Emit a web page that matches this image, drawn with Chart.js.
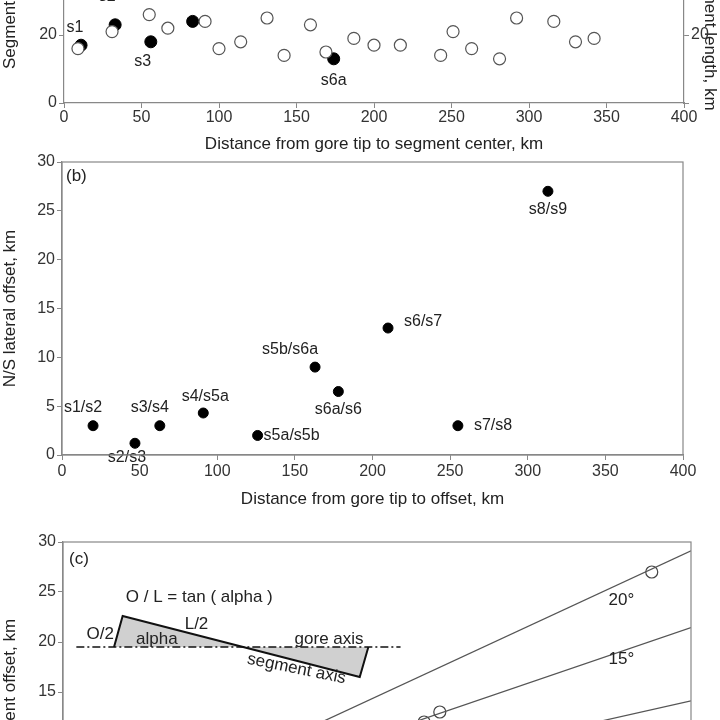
<!DOCTYPE html><html><head><meta charset="utf-8">
<script src="https://cdn.jsdelivr.net/npm/chart.js@4"></script>
<style>body{margin:0;width:720px;height:720px;overflow:hidden;background:#fff;position:relative}
canvas{position:absolute;left:0}</style></head><body>
<div style="position:absolute;left:0;top:-60px;width:720px;height:215px"><canvas id="a"></canvas></div>
<div style="position:absolute;left:0;top:150px;width:720px;height:360px"><canvas id="b"></canvas></div>
<div style="position:absolute;left:0;top:530px;width:720px;height:367px"><canvas id="c"></canvas></div>
<script>
const FONT="'Liberation Sans Narrow','Liberation Sans',Arial,sans-serif";
Chart.defaults.font.family=FONT;Chart.defaults.color='#333';Chart.defaults.font.size=16;
const aOpen=[[9,16],[31,21],[55,26],[67,22],[91,24],[100,16],[114,18],[131,25],[142,14],[159,23],[169,15],[187,19],[200,17],[217,17],[243,14],[251,21],[263,16],[281,13],[292,25],[316,24],[330,18],[342,19]];
const aFilled=[[11,17],[33,23],[56,18],[83,24],[174,13]];
const aLabels=['s1','s2','s3','s4','s6a'];
const aLabelOff=[[-6,-18],[-8,-28],[-8,20],[-16,-26],[0,22]];
const bPts=[[20,3],[47,1.2],[63,3],[91,4.3],[126,2],[163,9],[178,6.5],[210,13],[255,3],[313,27]];
const bLabels=['s1/s2','s2/s3','s3/s4','s4/s5a','s5a/s5b','s5b/s6a','s6a/s6','s6/s7','s7/s8','s8/s9'];
const bLabelOff=[[-10,-18],[-8,14],[-10,-18],[2,-16],[6,0],[-25,-18],[0,18],[16,-6],[16,0],[0,18]];
const cPts=[[75,27],[48,13],[46,12]];
const cAngles=[20,15,10];
const cLineX=[0,80];

const labelPlugin={id:'lbl',afterDatasetsDraw(ch){const o=ch.options.plugins.lbl;if(!o||!o.pts)return;const c=ch.ctx;const xs=ch.scales.x,ys=ch.scales.y;
c.save();c.font='16px '+FONT;c.fillStyle='#222';c.textBaseline='middle';
o.pts.forEach((p,i)=>{const off=o.off[i];c.textAlign=off[0]>5?'left':'center';c.fillText(o.labels[i],xs.getPixelForValue(p[0])+off[0],ys.getPixelForValue(p[1])+off[1]);});c.restore();}};
Chart.register(labelPlugin);
function fixW(w){return s=>{s.width=w;}}
function fixH(h){return s=>{s.height=h;}}
const tick={color:'#333',font:{size:16}};
const grid={display:true,drawOnChartArea:false,drawTicks:true,tickLength:5,color:'#888'};
const border={color:'#888',width:1.2};

new Chart('a',{type:'scatter',data:{datasets:[
{data:aOpen.map(p=>({x:p[0],y:p[1]})),pointRadius:6,borderColor:'#555',backgroundColor:'#fff',borderWidth:1.2},
{data:aFilled.map(p=>({x:p[0],y:p[1]})),pointRadius:6,borderColor:'#000',backgroundColor:'#000'}]},
options:{animation:false,responsive:true,maintainAspectRatio:false,layout:{padding:{top:27}},
plugins:{legend:{display:false},tooltip:{enabled:false},lbl:{pts:aFilled,labels:aLabels,off:aLabelOff}},
scales:{x:{min:0,max:400,ticks:{...tick,stepSize:50,padding:0},grid,border,title:{display:true,text:'Distance from gore tip to segment center, km',color:'#222',font:{size:17},padding:{top:0,bottom:0}},afterFit:fixH(52)},
y:{min:0,max:40,ticks:{...tick,stepSize:20,padding:2},grid,border,title:{display:true,text:'Segment',color:'#222',font:{size:17},padding:0},afterFit:fixW(64)},
y2:{position:'right',min:0,max:40,ticks:{...tick,stepSize:20,padding:2,callback:v=>v===0?'':v},grid,border,title:{display:true,text:'Segment length, km',color:'#222',font:{size:17},padding:0},afterFit:fixW(36)}}}});

new Chart('b',{type:'scatter',data:{datasets:[
{data:bPts.map(p=>({x:p[0],y:p[1]})),pointRadius:5,borderColor:'#000',backgroundColor:'#000'}]},
options:{animation:false,responsive:true,maintainAspectRatio:false,layout:{padding:{top:12,right:37}},
plugins:{legend:{display:false},tooltip:{enabled:false},lbl:{pts:bPts,labels:bLabels,off:bLabelOff}},
scales:{x:{min:0,max:400,ticks:{...tick,stepSize:50,padding:2},grid,border,title:{display:true,text:'Distance from gore tip to offset, km',color:'#222',font:{size:17},padding:0},afterFit:fixH(55)},
y:{min:0,max:30,ticks:{...tick,stepSize:5,padding:2},grid,border,title:{display:true,text:'N/S lateral offset, km',color:'#222',font:{size:17},padding:0},afterFit:fixW(62)}}},
plugins:[{id:'tb',afterDraw(ch){const c=ch.ctx,a=ch.chartArea;c.save();c.strokeStyle='#888';c.lineWidth=1.2;c.strokeRect(a.left,a.top,a.right-a.left,a.bottom-a.top);c.font='17px '+FONT;c.fillStyle='#222';c.textBaseline='top';c.fillText('(b)',a.left+4,a.top+6);c.restore();}}]});

const lineSets=cAngles.map(d=>({type:'line',data:cLineX.map(x=>({x,y:x*Math.tan(d*Math.PI/180)})),borderColor:'#555',borderWidth:1.2,pointRadius:0}));
new Chart('c',{type:'scatter',data:{datasets:[...lineSets,
{data:cPts.map(p=>({x:p[0],y:p[1]})),pointRadius:6,borderColor:'#444',backgroundColor:'#fff',borderWidth:1.2}]},
options:{animation:false,responsive:true,maintainAspectRatio:false,layout:{padding:{top:12,right:29}},
plugins:{legend:{display:false},tooltip:{enabled:false}},
scales:{x:{min:0,max:80,ticks:{...tick,stepSize:10},grid,border,afterFit:fixH(55)},
y:{min:0,max:30,ticks:{...tick,stepSize:5,padding:2},grid,border,title:{display:true,text:'Segment offset, km',color:'#222',font:{size:17},padding:0},afterFit:fixW(63)}}},
plugins:[{id:'inset',afterDraw(ch){const c=ch.ctx,a=ch.chartArea,X=v=>ch.scales.x.getPixelForValue(v),Y=v=>ch.scales.y.getPixelForValue(v);
c.save();c.strokeStyle='#888';c.lineWidth=1.2;c.strokeRect(a.left,a.top,a.right-a.left,a.bottom-a.top);
c.fillStyle='#d0d0d0';c.strokeStyle='#111';c.lineWidth=2;
c.beginPath();c.moveTo(X(6.5),Y(19.5));c.lineTo(X(7.6),Y(22.6));c.lineTo(X(22.7),Y(19.5));c.closePath();c.fill();
c.beginPath();c.moveTo(X(22.7),Y(19.5));c.lineTo(X(38.9),Y(19.5));c.lineTo(X(37.8),Y(16.5));c.closePath();c.fill();
c.beginPath();c.moveTo(X(6.5),Y(19.5));c.lineTo(X(7.6),Y(22.6));c.lineTo(X(37.8),Y(16.5));c.lineTo(X(38.9),Y(19.5));c.stroke();
c.setLineDash([8,3,2,3]);c.lineWidth=1.5;c.beginPath();c.moveTo(X(1.7),Y(19.5));c.lineTo(X(43),Y(19.5));c.stroke();c.setLineDash([]);
c.fillStyle='#222';c.font='17px '+FONT;c.textBaseline='middle';
c.fillText('(c)',a.left+6,Y(28.3));
c.fillText('O / L = tan ( alpha )',X(8),Y(24.5));
c.fillText('O/2',X(3),Y(20.8));c.fillText('alpha',X(9.3),Y(20.3));c.fillText('L/2',X(15.5),Y(21.8));
c.fillText('gore axis',X(29.5),Y(20.3));
c.fillText('20°',X(69.5),Y(24.2));c.fillText('15°',X(69.5),Y(18.3));
c.save();c.translate(X(23.5),Y(18.3));c.rotate(0.2);c.fillText('segment axis',0,0);c.restore();
c.restore();}}]});
</script></body></html>
